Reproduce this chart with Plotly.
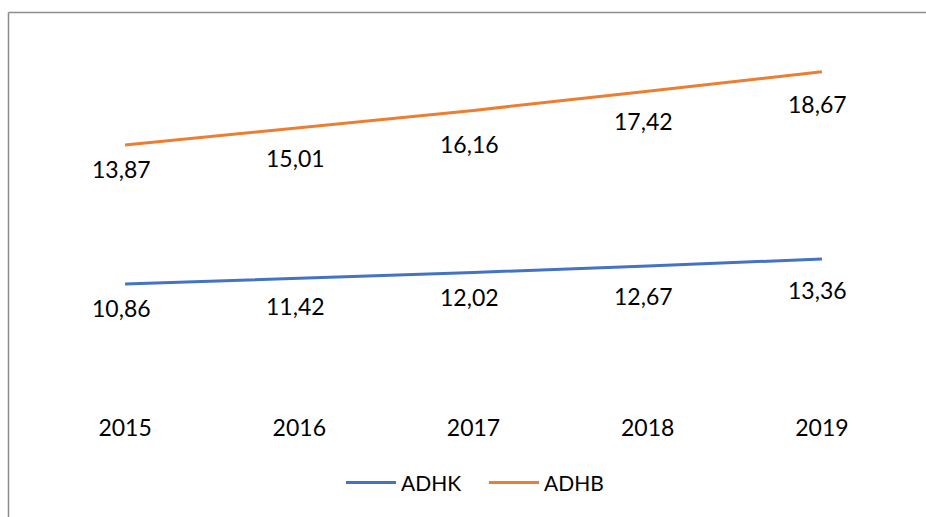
import plotly.graph_objects as go

years = ["2015", "2016", "2017", "2018", "2019"]
adhk = [10.86, 11.42, 12.02, 12.67, 13.36]
adhb = [13.87, 15.01, 16.16, 17.42, 18.67]

# label placement offsets below each point (px), as seen in the reference
adhk_label_dy = [24, 28, 25, 30, 31]
adhb_label_dy = [24, 30, 34, 30, 32]

FONT = "Lato"
FS = 23
W, H = 926, 517
ML, MR, MT, MB = 38, 17, 42, 124


def fmt(v):
    return f"{v:.2f}".replace(".", ",")


fig = go.Figure()
fig.add_trace(go.Scatter(
    x=years, y=adhk, name="ADHK", stackgroup="s", fill="none", mode="lines",
    line=dict(color="#4472C4", width=3), hoverinfo="skip",
))
fig.add_trace(go.Scatter(
    x=years, y=adhb, name="ADHB", stackgroup="s", fill="none", mode="lines",
    line=dict(color="#ED7D31", width=3), hoverinfo="skip",
))

# data labels below each (stacked) point; category index used as x
totals = [a + b for a, b in zip(adhk, adhb)]
for series, ys, dys in ((adhk, adhk, adhk_label_dy), (adhb, totals, adhb_label_dy)):
    for i, (v, y, dy) in enumerate(zip(series, ys, dys)):
        fig.add_annotation(x=i, y=y, text=fmt(v), showarrow=False,
                           xanchor="center", yanchor="middle", yshift=-dy, xshift=-4,
                           font=dict(size=FS, family=FONT, color="#000000"))

pw = W - ML - MR
ph = H - MT - MB
bx = (8.5 - ML) / pw
by = (H - MB - 12.5) / ph
fig.add_shape(type="line", xref="paper", yref="paper", x0=bx, x1=bx, y0=-1, y1=by,
              line=dict(color="#8c8c8c", width=1.5))
fig.add_shape(type="line", xref="paper", yref="paper", x0=bx, x1=2, y0=by, y1=by,
              line=dict(color="#8c8c8c", width=1.5))

fig.update_layout(
    width=W, height=H,
    margin=dict(l=ML, r=MR, t=MT, b=MB),
    paper_bgcolor="white", plot_bgcolor="white",
    font=dict(family=FONT, size=FS, color="#000000"),
    showlegend=True,
    legend=dict(orientation="h", x=(341 - ML) / pw, xanchor="left", y=-0.256, yanchor="middle",
                font=dict(size=21, family=FONT), traceorder="normal",
                itemwidth=50, entrywidth=78, entrywidthmode="pixels",
                bgcolor="rgba(0,0,0,0)"),
    xaxis=dict(type="category", range=[-0.5, 4.5], showgrid=False, zeroline=False,
               showline=False, ticks="outside", ticklen=14, tickcolor="rgba(0,0,0,0)",
               tickfont=dict(size=FS, family=FONT)),
    yaxis=dict(range=[0, 35], showgrid=False, zeroline=False, showline=False,
               showticklabels=False, ticks=""),
)

fig.write_html(
    "out.html",
    config={"displayModeBar": False},
    post_script="document.body.style.margin='0';document.body.style.overflow='hidden';",
)
